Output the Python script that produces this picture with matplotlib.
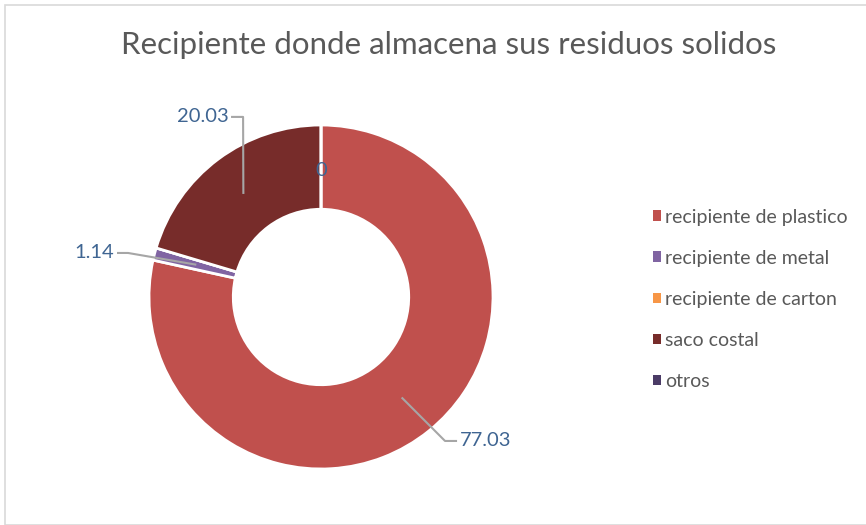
import numpy as np
import matplotlib
matplotlib.use("Agg")
import matplotlib.pyplot as plt
from matplotlib.patches import Rectangle

categories = ["recipiente de plastico", "recipiente de metal", "recipiente de carton", "saco costal", "otros"]
values = [77.03, 1.14, 0, 20.03, 0]
colors = ["#C0504D", "#8064A2", "#F79646", "#772C2A", "#4B3B66"]

plt.rcParams['font.family'] = ['Lato', 'DejaVu Sans']

W, H = 866, 525
fig = plt.figure(figsize=(W/100, H/100), dpi=100)
fig.patches.append(Rectangle((5/W, 0), 1, 1 - 5/H, transform=fig.transFigure,
                             fill=False, edgecolor="#D9D9D9", linewidth=1.2))

cx, cy, R = 321, 297, 172
ax = fig.add_axes([(cx - R)/W, (H - cy - R)/H, 2*R/W, 2*R/H])
wedges, _ = ax.pie(values, colors=colors, startangle=90, counterclock=False,
                   radius=1, wedgeprops=dict(width=0.49, edgecolor="white", linewidth=2))
ax.set_xlim(-1, 1); ax.set_ylim(-1, 1)
ax.set_aspect("equal")
ax.axis("off")

total = sum(values)
lab_color = "#3F6592"
line_color = "#A6A6A6"
layout = {
    0: dict(elbow=(0.721, -0.837), end=(0.785, -0.837), ha="left"),
    1: dict(elbow=(-1.122, 0.256), end=(-1.18, 0.256), ha="right"),
    3: dict(elbow=(-0.453, 1.047), end=(-0.517, 1.047), ha="right"),
}
cum = 0
for i, v in enumerate(values):
    mid = 90 - (cum + v/2) / total * 360
    cum += v
    a = np.deg2rad(mid)
    r = 0.755
    px, py = r*np.cos(a), r*np.sin(a)
    lbl = f"{v:.2f}" if v else "0"
    if i in layout:
        L = layout[i]
        ex, ey = L["elbow"]; tx, ty = L["end"]
        ax.plot([px, ex, tx], [py, ey, ty], color=line_color, lw=1.5, clip_on=False)
        ax.text(tx + (0.02 if L["ha"] == "left" else -0.02), ty, lbl, ha=L["ha"], va="center",
                fontsize=14.5, color=lab_color, clip_on=False)
    elif i == 4:
        ax.text(0, 0.738, lbl, ha="center", va="center", fontsize=14.5, color=lab_color)

fig.text(0.518, 1 - 45/H, "Recipiente donde almacena sus residuos solidos",
         ha="center", va="center", fontsize=22.5, color="#595959")

handles = [Rectangle((0, 0), 1, 1, facecolor=c, edgecolor="none") for c in colors]
leg = fig.legend(handles, categories, loc="upper left", bbox_to_anchor=(635/W, 1 - 191/H),
                 frameon=False, fontsize=14, handlelength=0.45, handleheight=0.45,
                 handletextpad=0.2, labelspacing=1.24, labelcolor="#595959")

fig.savefig("out.png", dpi=100)
